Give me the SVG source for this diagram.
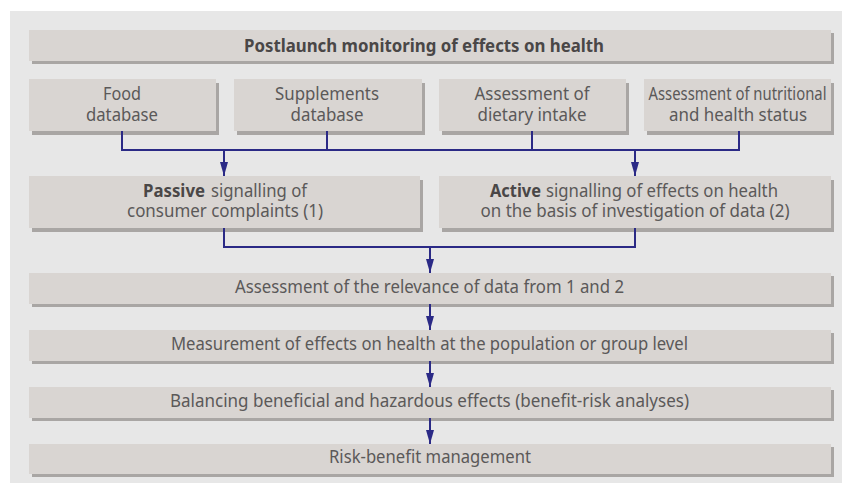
<svg xmlns="http://www.w3.org/2000/svg" width="842" height="483" viewBox="0 0 842 483">
<style>
.bg{fill:#e7e7e7}
.sh{fill:#a9a6a4}
.bx{fill:#d9d5d2}
.t{font-family:"Noto Sans","Liberation Sans",sans-serif;font-size:17.5px;fill:#5b5959;text-anchor:middle}
.b{font-weight:bold;fill:#4a4747}
.c{fill:none;stroke:#2b2a86;stroke-width:2}
</style>
<defs>
<marker id="ah" markerUnits="userSpaceOnUse" markerWidth="14" markerHeight="8" refX="14" refY="4" orient="auto">
<path d="M0,0 L14,4 L0,8 z" fill="#2b2a86"/>
</marker>
</defs>
<rect class="bg" x="10" y="11" width="832" height="472"/>
<g id="header">
<rect class="sh" x="32" y="33" width="802" height="31"/>
<rect class="bx" x="29" y="30" width="802" height="31"/>
<text class="t b" x="424" y="52" textLength="360" lengthAdjust="spacingAndGlyphs">Postlaunch monitoring of effects on health</text>
</g>
<g id="food">
<rect class="sh" x="32" y="83" width="187" height="52"/>
<rect class="bx" x="29" y="79" width="187" height="52"/>
<text class="t" x="122" y="100" textLength="38" lengthAdjust="spacingAndGlyphs">Food</text>
<text class="t" x="122" y="121" textLength="72" lengthAdjust="spacingAndGlyphs">database</text>
</g>
<g id="supplements">
<rect class="sh" x="237" y="83" width="188" height="52"/>
<rect class="bx" x="234" y="79" width="188" height="52"/>
<text class="t" x="327" y="100" textLength="104" lengthAdjust="spacingAndGlyphs">Supplements</text>
<text class="t" x="327" y="121" textLength="73" lengthAdjust="spacingAndGlyphs">database</text>
</g>
<g id="dietary">
<rect class="sh" x="442" y="83" width="187" height="52"/>
<rect class="bx" x="439" y="79" width="187" height="52"/>
<text class="t" x="532" y="100" textLength="115" lengthAdjust="spacingAndGlyphs">Assessment of</text>
<text class="t" x="532" y="121" textLength="109" lengthAdjust="spacingAndGlyphs">dietary intake</text>
</g>
<g id="nutritional">
<rect class="sh" x="647" y="83" width="187" height="52"/>
<rect class="bx" x="644" y="79" width="187" height="52"/>
<text class="t" x="737.5" y="100" textLength="178" lengthAdjust="spacingAndGlyphs">Assessment of nutritional</text>
<text class="t" x="738" y="121" textLength="138" lengthAdjust="spacingAndGlyphs">and health status</text>
</g>
<g id="passive">
<rect class="sh" x="32" y="180" width="391" height="52"/>
<rect class="bx" x="29" y="176" width="391" height="52"/>
<text class="t b" x="174" y="197" textLength="62" lengthAdjust="spacingAndGlyphs">Passive</text>
<text class="t" x="259" y="197" textLength="96" lengthAdjust="spacingAndGlyphs">signalling of</text>
<text class="t" x="225" y="217" textLength="196" lengthAdjust="spacingAndGlyphs">consumer complaints (1)</text>
</g>
<g id="active">
<rect class="sh" x="442" y="180" width="392" height="52"/>
<rect class="bx" x="439" y="176" width="392" height="52"/>
<text class="t b" x="515.5" y="197" textLength="51" lengthAdjust="spacingAndGlyphs">Active</text>
<text class="t" x="662" y="197" textLength="232" lengthAdjust="spacingAndGlyphs">signalling of effects on health</text>
<text class="t" x="635" y="217" textLength="309" lengthAdjust="spacingAndGlyphs">on the basis of investigation of data (2)</text>
</g>
<g id="relevance">
<rect class="sh" x="32" y="276" width="802" height="31"/>
<rect class="bx" x="29" y="273" width="802" height="31"/>
<text class="t" x="429.5" y="293" textLength="389" lengthAdjust="spacingAndGlyphs">Assessment of the relevance of data from 1 and 2</text>
</g>
<g id="measurement">
<rect class="sh" x="32" y="333" width="802" height="31"/>
<rect class="bx" x="29" y="330" width="802" height="31"/>
<text class="t" x="429.5" y="350" textLength="517" lengthAdjust="spacingAndGlyphs">Measurement of effects on health at the population or group level</text>
</g>
<g id="balancing">
<rect class="sh" x="32" y="390" width="802" height="31"/>
<rect class="bx" x="29" y="387" width="802" height="31"/>
<text class="t" x="429.5" y="407" textLength="519" lengthAdjust="spacingAndGlyphs">Balancing beneficial and hazardous effects (benefit-risk analyses)</text>
</g>
<g id="management">
<rect class="sh" x="32" y="447" width="802" height="30"/>
<rect class="bx" x="29" y="444" width="802" height="30"/>
<text class="t" x="430" y="463" textLength="202" lengthAdjust="spacingAndGlyphs">Risk-benefit management</text>
</g>
<g id="connectors">
<path class="c" d="M122,131 V150 H739 V131 M327,131 V150 M532,131 V150"/>
<path class="c" d="M224,150 V176" marker-end="url(#ah)"/>
<path class="c" d="M635,150 V176" marker-end="url(#ah)"/>
<path class="c" d="M224,228 V247 H635 V228"/>
<path class="c" d="M430,247 V273" marker-end="url(#ah)"/>
<path class="c" d="M430,304 V330" marker-end="url(#ah)"/>
<path class="c" d="M430,361 V387" marker-end="url(#ah)"/>
<path class="c" d="M430,418 V444" marker-end="url(#ah)"/>
</g>
</svg>
